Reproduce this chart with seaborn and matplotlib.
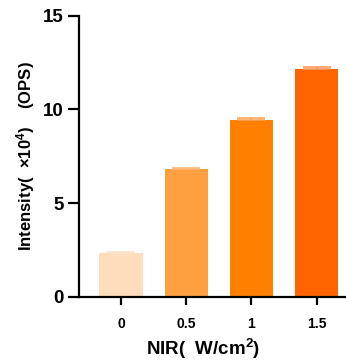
import matplotlib
matplotlib.use("Agg")
import matplotlib.pyplot as plt
import seaborn as sns
import pandas as pd

# data
nir = ["0", "0.5", "1", "1.5"]
intensity = [2.33, 6.82, 9.43, 12.14]
err = [0.05, 0.06, 0.09, 0.12]
bar_colors = ["#FDDDBC", "#FFA040", "#FF8000", "#FF6400"]
err_colors = ["#FBE3CB", "#FFB777", "#FFA45A", "#FF9A5C"]

sns.set_style("ticks")
plt.rcParams['font.family'] = ['Liberation Sans', 'Noto Sans CJK SC', 'DejaVu Sans']
plt.rcParams['font.weight'] = 'bold'
plt.rcParams['mathtext.fontset'] = 'custom'
plt.rcParams['mathtext.rm'] = 'Liberation Sans:bold'
plt.rcParams['mathtext.it'] = 'Liberation Sans:bold'
plt.rcParams['mathtext.bf'] = 'Liberation Sans:bold'
for key in ['text.color', 'axes.labelcolor', 'xtick.color', 'ytick.color']:
    plt.rcParams[key] = 'black'

df = pd.DataFrame({"NIR": nir, "Intensity": intensity})

fig = plt.figure(figsize=(3.46, 3.60), dpi=100)
ax = fig.add_axes([0.228, 0.176, 0.80, 0.780])

sns.barplot(data=df, x="NIR", y="Intensity", hue="NIR", palette=bar_colors,
            legend=False, width=0.67, errorbar=None, saturation=1, ax=ax,
            edgecolor="none", linewidth=0)

# small error bars, upper side only
for i, (m, e) in enumerate(zip(intensity, err)):
    ax.errorbar(i, m, yerr=[[0], [e]], fmt="none", ecolor=err_colors[i],
                elinewidth=1.2, capsize=10, capthick=1.2, zorder=3)

ax.set_ylim(0, 15)
ax.set_yticks([0, 5, 10, 15])
ax.set_xlim(-0.65, 3.6)
ax.set_ylabel("Intensity(  ×10$^{4}$)    (OPS)", fontsize=12, fontweight="bold", labelpad=4)
ax.set_xlabel("NIR(  W/cm$^{2}$)", fontsize=13.5, fontweight="bold")
ax.xaxis.set_label_coords(0.45, -0.142)

sns.despine(ax=ax)
for side in ["left", "bottom"]:
    ax.spines[side].set_linewidth(1.6)
    ax.spines[side].set_color("black")
ax.tick_params(axis="y", length=8, width=1.6, labelsize=13.5, pad=3)
ax.tick_params(axis="x", length=6, width=1.6, labelsize=10, pad=9)
for lab in ax.get_xticklabels() + ax.get_yticklabels():
    lab.set_fontweight("bold")

fig.savefig("out.png", dpi=100)
